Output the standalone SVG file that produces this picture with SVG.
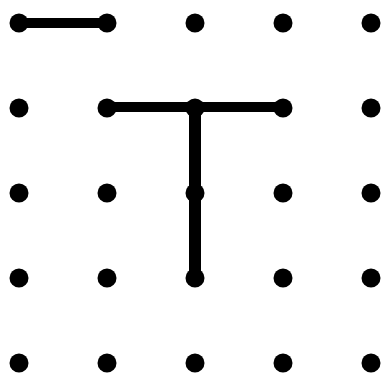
<svg xmlns="http://www.w3.org/2000/svg" width="385" height="374" viewBox="0 0 385 374">
<style>.d{fill:#000}.l{stroke:#000;stroke-width:10;stroke-linecap:butt;fill:none}</style>
<rect width="385" height="374" fill="#fff"/>
<g id="dots">
<g id="r0"><circle class="d" cx="19" cy="23" r="9.5"/><circle class="d" cx="107" cy="23" r="9.5"/><circle class="d" cx="195" cy="23" r="9.5"/><circle class="d" cx="283" cy="23" r="9.5"/><circle class="d" cx="371" cy="23" r="9.5"/></g>
<g id="r1"><circle class="d" cx="19" cy="108" r="9.5"/><circle class="d" cx="107" cy="108" r="9.5"/><circle class="d" cx="195" cy="108" r="9.5"/><circle class="d" cx="283" cy="108" r="9.5"/><circle class="d" cx="371" cy="108" r="9.5"/></g>
<g id="r2"><circle class="d" cx="19" cy="193" r="9.5"/><circle class="d" cx="107" cy="193" r="9.5"/><circle class="d" cx="195" cy="193" r="9.5"/><circle class="d" cx="283" cy="193" r="9.5"/><circle class="d" cx="371" cy="193" r="9.5"/></g>
<g id="r3"><circle class="d" cx="19" cy="278" r="9.5"/><circle class="d" cx="107" cy="278" r="9.5"/><circle class="d" cx="195" cy="278" r="9.5"/><circle class="d" cx="283" cy="278" r="9.5"/><circle class="d" cx="371" cy="278" r="9.5"/></g>
<g id="r4"><circle class="d" cx="19" cy="363" r="9.5"/><circle class="d" cx="107" cy="363" r="9.5"/><circle class="d" cx="195" cy="363" r="9.5"/><circle class="d" cx="283" cy="363" r="9.5"/><circle class="d" cx="371" cy="363" r="9.5"/></g>
</g>
<g id="connectors">
<line class="l" x1="19" y1="23" x2="107" y2="23"/>
<line class="l" x1="107" y1="107" x2="283" y2="107"/>
<line class="l" x1="195" y1="107" x2="195" y2="278" style="stroke-width:12"/>
</g>
</svg>
